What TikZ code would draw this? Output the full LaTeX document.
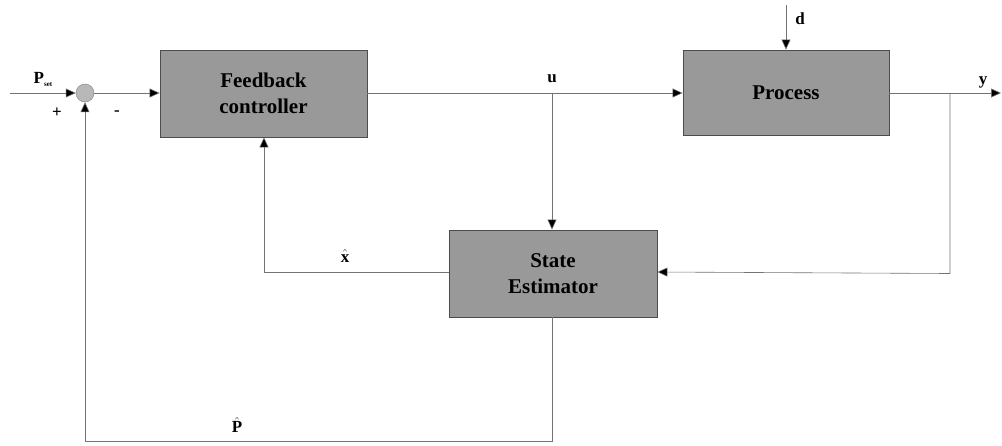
\documentclass[tikz,border=0pt]{standalone}
\usepackage{fontspec}
\setmainfont{Liberation Serif}
\usetikzlibrary{arrows.meta}
\begin{document}
\begin{tikzpicture}[x=1pt,y=-1pt,
  blk/.style={draw=black!70,fill=black!40,line width=0.8pt,inner sep=0pt,
    font=\fontsize{21}{26}\selectfont\bfseries,align=center},
  conn/.style={draw=black!55,line width=0.6pt},
  arr/.style={conn,-{Triangle[length=10pt,width=9pt,fill=black]}},
  lbl/.style={font=\fontsize{17}{20}\selectfont\bfseries,inner sep=0pt}]
\useasboundingbox (0,0) rectangle (1002,445);
\node[blk,minimum width=207pt,minimum height=87pt] (fc) at (263.5,93.5) {Feedback\\controller};
\node[blk,minimum width=206pt,minimum height=85pt] (pr) at (786,92.5) {Process};
\node[blk,minimum width=208pt,minimum height=87pt] (se) at (553,273.5) {State\\Estimator};
\node[circle,draw=black!50,fill=black!28,minimum size=18pt,inner sep=0pt] (sum) at (85,93) {};
\coordinate (in) at (10,93);
\coordinate (dtop) at (786,5);
\coordinate (out) at (1001,93);
\coordinate (ytap) at (950,93);
\coordinate (utap) at (552,93);
\coordinate (pb) at (552,441);
\coordinate (pl) at (85,441);
\coordinate (xl) at (264,272);
\draw[arr] (in) -- (sum);
\draw[arr] (sum) -- (fc.west |- sum);
\draw[arr] (fc.east |- utap) -- (pr.west |- utap);
\draw[arr] (dtop) -- (pr.north);
\draw[arr] (pr.east |- out) -- (out);
\draw[arr] (ytap) -- (ytap |- se.east) -- (se.east |- xl);
\draw[arr] (utap) -- (se.north -| utap);
\draw[arr] (se.west |- xl) -- (xl) -- (fc.south -| xl);
\draw[arr] (se.south -| pb) -- (pb) -- (pl) -- (sum.south);
\node[lbl] (plab) at (43,79) {P\raisebox{-3pt}{\fontsize{7}{7}\selectfont set}};
\node[lbl] (plus) at (57,113) {+};
\node[lbl] (minus) at (117,113) {-};
\node[lbl] (ulab) at (552,79) {u};
\node[lbl] (dlab) at (800,19) {d};
\node[lbl] (ylab) at (983,82) {y};
\node[lbl] (xlab) at (345,256) {$\hat{\textbf{x}}$};
\node[lbl] (phlab) at (237,425) {$\hat{\textbf{P}}$};
\end{tikzpicture}
\end{document}
